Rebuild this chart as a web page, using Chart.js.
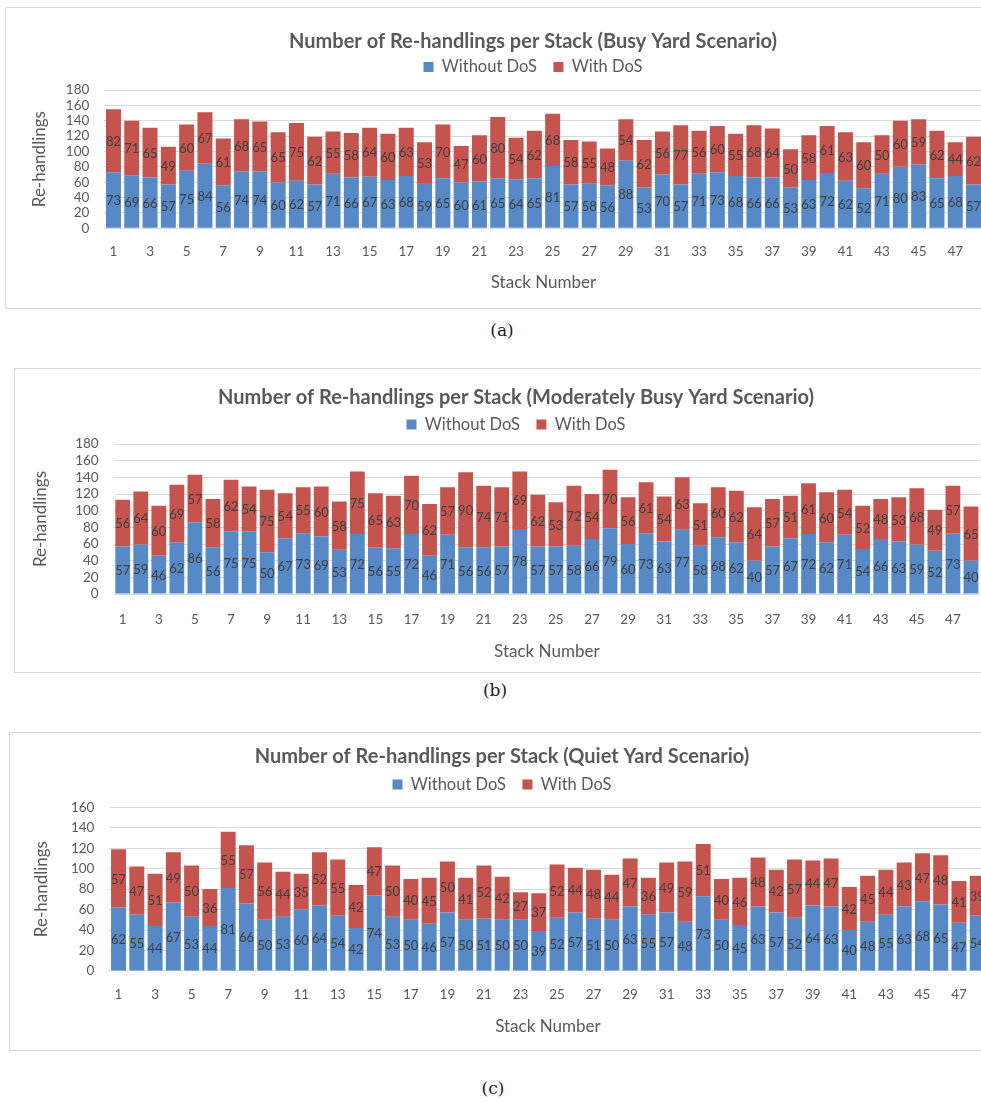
<!DOCTYPE html>
<html>
<head>
<meta charset="utf-8">
<title>Number of Re-handlings per Stack</title>
<script src="https://cdn.jsdelivr.net/npm/chart.js@4.4.1/dist/chart.umd.min.js"></script>
<style>
  html, body { margin: 0; padding: 0; background: #fff; }
  body { width: 981px; height: 1102px; overflow: hidden; position: relative; }
  .box { position: absolute; border: 1px solid #d9d9d9; background: #fff; }
  .box > div { position: relative; }
  .caption { position: absolute; transform: translate(-50%, -50%); font: 17px "DejaVu Serif", serif; color: #222; }
</style>
</head>
<body>
<div class="box" style="left:5px; top:7px;"><div style="width:1054px; height:300px;"><canvas id="busyChart"></canvas></div></div>
<div class="caption" style="left:502px; top:330px;">(a)</div>
<div class="box" style="left:14px; top:368px;"><div style="width:1002px; height:303px;"><canvas id="moderateChart"></canvas></div></div>
<div class="caption" style="left:495px; top:690px;">(b)</div>
<div class="box" style="left:9px; top:732px;"><div style="width:984px; height:317px;"><canvas id="quietChart"></canvas></div></div>
<div class="caption" style="left:493px; top:1088px;">(c)</div>

<script>
// stack numbers on the x axis
const stackNumbers = ['1','2','3','4','5','6','7','8','9','10','11','12','13','14','15','16',
  '17','18','19','20','21','22','23','24','25','26','27','28','29','30','31','32',
  '33','34','35','36','37','38','39','40','41','42','43','44','45','46','47','48'];

// (a) busy yard
const busyWithout = [73,69,66,57,75,84,56,74,74,60,62,57,71,66,67,63,68,59,65,60,61,65,64,65,
  81,57,58,56,88,53,70,57,71,73,68,66,66,53,63,72,62,52,71,80,83,65,68,57];
const busyWith = [82,71,65,49,60,67,61,68,65,65,75,62,55,58,64,60,63,53,70,47,60,80,54,62,
  68,58,55,48,54,62,56,77,56,60,55,68,64,50,58,61,63,60,50,60,59,62,44,62];

// (b) moderately busy yard
const moderateWithout = [57,59,46,62,86,56,75,75,50,67,73,69,53,72,56,55,72,46,71,56,56,57,78,57,
  57,58,66,79,60,73,63,77,58,68,62,40,57,67,72,62,71,54,66,63,59,52,73,40];
const moderateWith = [56,64,60,69,57,58,62,54,75,54,55,60,58,75,65,63,70,62,57,90,74,71,69,62,
  53,72,54,70,56,61,54,63,51,60,62,64,57,51,61,60,54,52,48,53,68,49,57,65];

// (c) quiet yard
const quietWithout = [62,55,44,67,53,44,81,66,50,53,60,64,54,42,74,53,50,46,57,50,51,50,50,39,
  52,57,51,50,63,55,57,48,73,50,45,63,57,52,64,63,40,48,55,63,68,65,47,54];
const quietWith = [57,47,51,49,50,36,55,57,56,44,35,52,55,42,47,50,40,45,50,41,52,42,27,37,
  52,44,48,44,47,36,49,59,51,40,46,48,42,57,44,47,42,45,44,43,47,48,41,39];

// y axis ranges (step 20)
const busyYMax = 180;
const moderateYMax = 180;
const quietYMax = 160;

const BLUE = '#5689C6';
const RED = '#C5544F';
const GREY = '#595959';

Chart.defaults.font.family = 'Lato, "Liberation Sans", sans-serif';
Chart.defaults.color = GREY;

// Chart.js ties the legend height to its padding, force it to a fixed value
const legendHeight = {
  id: 'legendHeight',
  beforeLayout(chart, args, opts) {
    const lg = chart.legend;
    if (lg && !lg._fixedFit) {
      const fit = lg.fit;
      lg.fit = function () { fit.call(this); this.height = opts.height; };
      lg._fixedFit = true;
    }
  }
};

// value labels in the middle of every segment
const segmentLabels = {
  id: 'segmentLabels',
  afterDatasetsDraw(chart) {
    const ctx = chart.ctx;
    ctx.save();
    ctx.font = '13px Lato, "Liberation Sans", sans-serif';
    ctx.fillStyle = '#404040';
    ctx.textAlign = 'center';
    ctx.textBaseline = 'middle';
    chart.data.datasets.forEach((ds, i) => {
      chart.getDatasetMeta(i).data.forEach((bar, j) => {
        const p = bar.getCenterPoint();
        ctx.fillText(ds.data[j], p.x, p.y + 1);
      });
    });
    ctx.restore();
  }
};

function drawChart(id, title, without, withDos, yMax, lay) {
  const legendPad = 4;
  const legendHalf = 8.25;
  const titleHalf = 12;
  const titleBottom = lay.legendY - legendPad - legendHalf;
  return new Chart(document.getElementById(id), {
    type: 'bar',
    data: {
      labels: stackNumbers,
      datasets: [
        { label: 'Without DoS', data: without, backgroundColor: BLUE },
        { label: 'With DoS', data: withDos, backgroundColor: RED }
      ]
    },
    options: {
      responsive: true,
      maintainAspectRatio: false,
      animation: false,
      layout: { padding: 0 },
      datasets: { bar: { barPercentage: 0.82, categoryPercentage: 1 } },
      plugins: {
        title: {
          display: true,
          text: title,
          color: GREY,
          font: { size: 20, weight: 'bold' },
          padding: { top: lay.titleY - titleHalf, bottom: Math.max(0, titleBottom - lay.titleY - titleHalf) }
        },
        legend: {
          labels: {
            boxWidth: 10,
            boxHeight: 10,
            padding: legendPad,
            color: GREY,
            font: { size: 16.5 },
            generateLabels(chart) {
              const items = Chart.defaults.plugins.legend.labels.generateLabels(chart);
              items[0].text += '\u2003';
              return items;
            }
          }
        },
        legendHeight: { height: lay.plotTop - titleBottom },
        tooltip: { enabled: false }
      },
      scales: {
        x: {
          stacked: true,
          grid: { display: false, drawTicks: false },
          border: { display: false },
          ticks: {
            autoSkip: false,
            maxRotation: 0,
            padding: lay.tickY - lay.plotBottom - 6,
            font: { size: 13.5 },
            callback: (v, i) => (i % 2 === 0 ? stackNumbers[i] : '')
          },
          title: {
            display: true,
            text: 'Stack Number',
            font: { size: 17 },
            padding: { top: 0, bottom: lay.height - lay.xTitleY - 10.2 }
          },
          afterFit(s) { s.height = lay.height - lay.plotBottom; }
        },
        y: {
          stacked: true,
          min: 0,
          max: yMax,
          grid: { color: '#d9d9d9', drawTicks: false },
          border: { display: false },
          ticks: { stepSize: 20, autoSkip: false, padding: 15, font: { size: 13.5 } },
          title: {
            display: true,
            text: 'Re-handlings',
            font: { size: 17 },
            padding: { top: lay.yTitleX - 10.2, bottom: 0 }
          },
          afterFit(s) { s.width = lay.plotLeft; }
        },
        // empty right-hand strip so the plot stops short of the frame
        rightGap: {
          type: 'linear',
          position: 'right',
          grid: { display: false, drawTicks: false },
          border: { display: false },
          ticks: { display: false },
          afterFit(s) { s.width = lay.width - lay.plotRight; }
        }
      }
    },
    plugins: [legendHeight, segmentLabels]
  });
}

drawChart('busyChart', 'Number of Re-handlings per Stack (Busy Yard Scenario)',
  busyWithout, busyWith, busyYMax,
  { width: 1054, height: 300, titleY: 34, legendY: 59, plotTop: 82, plotBottom: 220.3,
    plotLeft: 98.3, plotRight: 976.7, tickY: 242, xTitleY: 275, yTitleX: 34 });

drawChart('moderateChart', 'Number of Re-handlings per Stack (Moderately Busy Yard Scenario)',
  moderateWithout, moderateWith, moderateYMax,
  { width: 1002, height: 303, titleY: 29, legendY: 55.5, plotTop: 75, plotBottom: 225,
    plotLeft: 98.7, plotRight: 965, tickY: 248.7, xTitleY: 282.7, yTitleX: 26 });

drawChart('quietChart', 'Number of Re-handlings per Stack (Quiet Yard Scenario)',
  quietWithout, quietWith, quietYMax,
  { width: 984, height: 317, titleY: 23.5, legendY: 51.5, plotTop: 74.3, plotBottom: 237.9,
    plotLeft: 99.4, plotRight: 976.4, tickY: 260, xTitleY: 294, yTitleX: 32 });
</script>
</body>
</html>
